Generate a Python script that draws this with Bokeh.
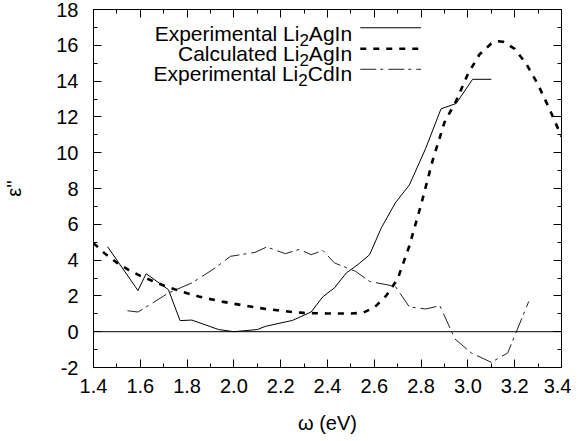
import numpy as np
from bokeh.plotting import figure
from bokeh.models import LinearAxis, Span, Range1d, FixedTicker
from bokeh.embed import file_html
from bokeh.resources import INLINE
from bokeh.core.properties import value

# ---------------- data ----------------
exp_ag_x = [1.46, 1.59, 1.625, 1.72, 1.77, 1.82, 1.935, 2.00, 2.10, 2.135, 2.25, 2.33,
            2.38, 2.43, 2.48, 2.53, 2.58, 2.63, 2.69, 2.75, 2.82, 2.885, 2.95, 3.02, 3.10]
exp_ag_y = [4.75, 2.30, 3.24, 2.35, 0.62, 0.65, 0.12, 0.00, 0.12, 0.30, 0.63, 1.10,
            1.95, 2.45, 3.28, 3.75, 4.30, 5.80, 7.20, 8.20, 10.25, 12.45, 12.75, 14.10, 14.10]

calc_ag_x = [1.40, 1.45, 1.50, 1.55, 1.60, 1.65, 1.70, 1.75, 1.80, 1.85, 1.90, 1.95,
             2.00, 2.05, 2.10, 2.15, 2.20, 2.25, 2.30, 2.35, 2.40, 2.45, 2.50, 2.55,
             2.60, 2.65, 2.70, 2.75, 2.80, 2.85, 2.90, 2.95, 3.00, 3.05, 3.10, 3.13,
             3.15, 3.20, 3.25, 3.30, 3.35, 3.40]
calc_ag_y = [4.95, 4.35, 3.85, 3.45, 3.12, 2.85, 2.58, 2.36, 2.15, 1.97, 1.82, 1.68,
             1.56, 1.45, 1.34, 1.25, 1.17, 1.10, 1.05, 1.03, 1.02, 1.02, 1.02, 1.05,
             1.35, 2.00, 2.95, 4.80, 7.10, 9.60, 11.70, 12.90, 14.40, 15.50, 16.10, 16.22,
             16.20, 15.80, 14.95, 13.80, 12.40, 10.90]

exp_cd_x = [1.545, 1.59, 1.68, 1.72, 1.82, 1.92, 1.985, 2.09, 2.14, 2.22, 2.28, 2.33,
            2.38, 2.43, 2.52, 2.58, 2.69, 2.75, 2.82, 2.88, 2.945, 3.015, 3.10, 3.17, 3.26]
exp_cd_y = [1.17, 1.10, 1.83, 2.16, 2.72, 3.56, 4.21, 4.43, 4.73, 4.36, 4.60, 4.30,
            4.54, 3.84, 3.37, 2.81, 2.53, 1.38, 1.27, 1.45, -0.41, -1.19, -1.71, -1.19, 1.69]

# key labels, split as (head, subscript, tail) -> "Experimental Li2AgIn" etc.
label_heads = ["Experimental Li", "Calculated Li", "Experimental Li"]
label_subs = ["2", "2", "2"]
label_tails = ["AgIn", "AgIn", "CdIn"]

x_ticks = [1.4, 1.6, 1.8, 2.0, 2.2, 2.4, 2.6, 2.8, 3.0, 3.2, 3.4]
x_tick_labels = ["1.4", "1.6", "1.8", "2.0", "2.2", "2.4", "2.6", "2.8", "3.0", "3.2", "3.4"]
y_ticks = [-2, 0, 2, 4, 6, 8, 10, 12, 14, 16, 18]
y_tick_labels = ["-2", "0", "2", "4", "6", "8", "10", "12", "14", "16", "18"]

# ---------------- styling ----------------
FONT = "Liberation Sans"
FS = "20px"
KEY_FS_PX = 21
SUB_FS_PX = 17
FRAME_W, FRAME_H = 468, 358
XR = (1.4, 3.4)
YR = (-2, 18)

p = figure(frame_width=FRAME_W, frame_height=FRAME_H,
           x_range=Range1d(*XR), y_range=Range1d(*YR),
           min_border_left=92, min_border_top=9, min_border_right=10, min_border_bottom=58,
           output_backend="svg", toolbar_location=None)
p.grid.visible = False
p.outline_line_color = "black"
p.outline_line_width = 1
p.background_fill_color = "white"
p.border_fill_color = "white"

x_minor = [round(v, 2) for v in np.arange(1.4, 3.401, 0.1)]
y_minor = list(range(-2, 19))

xt = FixedTicker(ticks=x_ticks, minor_ticks=x_minor)
yt = FixedTicker(ticks=y_ticks, minor_ticks=y_minor)


def style_axis(ax, ticker, labels=None, ticks=None):
    ax.ticker = ticker
    ax.axis_line_color = "black"
    ax.major_tick_line_color = "black"
    ax.minor_tick_line_color = "black"
    ax.major_tick_in = 8
    ax.major_tick_out = 0
    ax.minor_tick_in = 4
    ax.minor_tick_out = 0
    if labels is not None:
        ax.major_label_overrides = {t: l for t, l in zip(ticks, labels)}
        ax.major_label_text_font = FONT
        ax.major_label_text_font_size = FS
        ax.major_label_text_color = "black"
    else:
        ax.major_label_text_font_size = "1px"
        ax.major_label_text_color = None
        ax.major_label_standoff = 0


style_axis(p.xaxis[0], xt, x_tick_labels, x_ticks)
style_axis(p.yaxis[0], yt, y_tick_labels, y_ticks)
p.xaxis[0].major_label_standoff = 11
p.yaxis[0].major_label_standoff = 15

p.xaxis[0].axis_label = "\u03c9 (eV)"
p.yaxis[0].axis_label = "\u03b5''"
for ax in (p.xaxis[0], p.yaxis[0]):
    ax.axis_label_text_font = FONT
    ax.axis_label_text_font_size = FS
    ax.axis_label_text_font_style = "normal"
    ax.axis_label_text_color = "black"
p.xaxis[0].axis_label_standoff = 16
p.yaxis[0].axis_label_standoff = 28

top_ax = LinearAxis()
right_ax = LinearAxis()
style_axis(top_ax, xt)
style_axis(right_ax, yt)
p.add_layout(top_ax, "above")
p.add_layout(right_ax, "right")

p.add_layout(Span(location=0, dimension="width", line_color="black", line_width=1))

# ---------------- series ----------------
solid_style = dict(line_color="black", line_width=1)
dash_style = dict(line_color="black", line_width=2.6, line_dash="6 7")
dashdot_style = dict(line_color="#222222", line_width=1, line_dash="16 4 3 5")

p.line(exp_ag_x, exp_ag_y, **solid_style)
p.line(calc_ag_x, calc_ag_y, **dash_style)
p.line(exp_cd_x, exp_cd_y, **dashdot_style)

# ---------------- key (text right-aligned, sample on the right) ----------------
# Arial / Liberation Sans advance widths (em) for the pieces after the head text
ADV = {"A": 0.667, "g": 0.556, "I": 0.278, "n": 0.556, "C": 0.722, "d": 0.556, "2": 0.556}
px_per_x = FRAME_W / (XR[1] - XR[0])
px_per_y = FRAME_H / (YR[1] - YR[0])


def width_x(s, size_px):
    return sum(ADV[c] for c in s) * size_px / px_per_x


key_right_x = 2.505
key_sample_x = [2.54, 2.80]
key_sample_y = [16.98, 15.81, 14.66]
key_base_y = [16.64, 15.54, 14.45]
sub_drop = 6.5 / px_per_y

tail_x, sub_x, head_x = [], [], []
for t, s in zip(label_tails, label_subs):
    wt = width_x(t, KEY_FS_PX)
    ws = width_x(s, SUB_FS_PX)
    tail_x.append(key_right_x)
    sub_x.append(key_right_x - wt)
    head_x.append(key_right_x - wt - ws)

common = dict(text_align="right", text_baseline="alphabetic",
              text_font=value(FONT), text_color="black")
p.text(x=tail_x, y=key_base_y, text=label_tails, text_font_size=f"{KEY_FS_PX}px", **common)
p.text(x=head_x, y=key_base_y, text=label_heads, text_font_size=f"{KEY_FS_PX}px", **common)
p.text(x=sub_x, y=[b - sub_drop for b in key_base_y], text=label_subs,
       text_font_size=f"{SUB_FS_PX}px", **common)
for yy, st in zip(key_sample_y, [solid_style, dash_style, dashdot_style]):
    p.line(key_sample_x, [yy, yy], **st)

open("out.html", "w").write(file_html(p, INLINE))
